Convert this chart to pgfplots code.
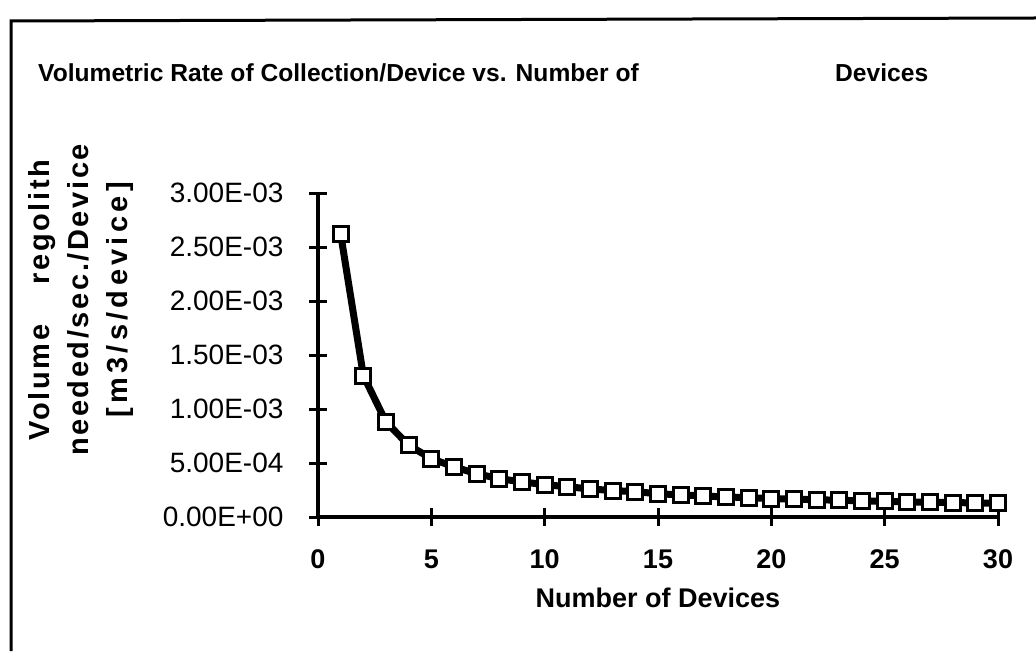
\documentclass[border=0pt]{standalone}
\usepackage{fontspec}
\setmainfont{Liberation Sans}
\usepackage{pgfplots}
\pgfplotsset{compat=1.18}
\begin{document}
\begin{tikzpicture}[x=1pt,y=1pt]
\useasboundingbox (0,0) rectangle (1036,651);
\draw[line width=3pt] (11,0) -- (11,630) -- (1036,633);
\node[anchor=base west, inner sep=0pt, font=\fontsize{24.6}{30}\selectfont\bfseries] at (38,569) {Volumetric Rate of Collection/Device vs. Number of};
\node[anchor=base west, inner sep=0pt, font=\fontsize{24.6}{30}\selectfont\bfseries] at (835,569) {Devices};
\node[rotate=90, align=center, inner sep=0pt, font=\fontsize{29}{39}\selectfont\bfseries] at (81,351)
 {\addfontfeature{LetterSpace=9}Volume\hspace{40pt}regolith\\
  \addfontfeature{LetterSpace=9}needed/sec./Device\\
  \addfontfeature{LetterSpace=15}[m3/s/device]};
\begin{axis}[
  at={(318pt,134pt)}, anchor=south west,
  scale only axis, width=680pt, height=324pt,
  xmin=0, xmax=30, ymin=0, ymax=0.003,
  axis x line*=bottom, axis y line*=left,
  axis line style={line width=3.5pt, -},
  tick align=center, major tick length=18pt,
  tick style={line width=3pt, black},
  xtick={0,5,10,15,20,25,30},
  xticklabels={0,5,10,15,20,25,30},
  ytick={0,0.0005,0.001,0.0015,0.002,0.0025,0.003},
  yticklabels={0.00E+00,5.00E-04,1.00E-03,1.50E-03,2.00E-03,2.50E-03,3.00E-03},
  scaled y ticks=false,
  /pgf/number format/assume math mode=true,
  xticklabel style={font=\fontsize{27}{30}\selectfont\bfseries, yshift=-20pt},
  yticklabel style={font=\fontsize{28}{30}\selectfont, xshift=-22pt},
  xlabel={Number of Devices},
  xlabel style={font=\fontsize{27}{32}\selectfont\bfseries, yshift=-12pt},
  clip=false,
]
\addplot[black, line width=7pt, mark=square*, mark size=7.5pt,
  mark options={fill=white, draw=black, line width=3pt, solid}]
 coordinates {
 (1,0.00262) (2,0.00131) (3,0.00088) (4,0.000665) (5,0.00054)
 (6,0.000465) (7,0.0004) (8,0.000355) (9,0.000325) (10,0.0003)
 (11,0.00028) (12,0.00026) (13,0.000245) (14,0.000235) (15,0.000215)
 (16,0.000205) (17,0.000195) (18,0.000185) (19,0.00018) (20,0.00017)
 (21,0.000165) (22,0.00016) (23,0.000155) (24,0.00015) (25,0.000145)
 (26,0.00014) (27,0.000137) (28,0.000134) (29,0.00013) (30,0.000127)
 };
\end{axis}
\end{tikzpicture}
\end{document}
